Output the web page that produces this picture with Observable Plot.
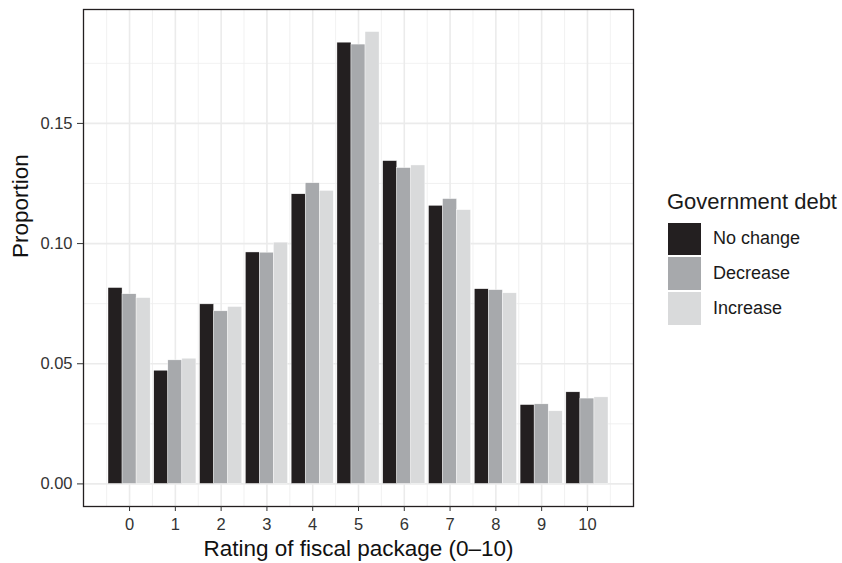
<!DOCTYPE html>
<html>
<head>
<meta charset="utf-8">
<script src="https://cdn.jsdelivr.net/npm/d3@7"></script>
<script src="https://cdn.jsdelivr.net/npm/@observablehq/plot@0.6"></script>
<style>
  html, body { margin: 0; padding: 0; background: #fff; }
  #wrap { position: relative; width: 842px; height: 563px; font-family: "Liberation Sans", Arial, sans-serif; }
  #legend { position: absolute; left: 667px; top: 189px; color: #1a1a1a; }
  #legend .title { font-size: 22px; line-height: 25px; margin-bottom: 7.5px; white-space: nowrap; }
  #legend .row { display: flex; align-items: center; height: 34.8px; }
  #legend .sw { width: 35px; height: 34.8px; margin-right: 11px; box-sizing: border-box; border: 0.5px solid #fff; }
  #legend .lab { font-size: 18px; white-space: nowrap; }
</style>
</head>
<body>
<div id="wrap"></div>
<script>
const ratings = [0, 1, 2, 3, 4, 5, 6, 7, 8, 9, 10];
const groups = ["No change", "Decrease", "Increase"];
const colors = ["#231f20", "#a7a9ac", "#d9dadb"];
const noChange = [0.0815, 0.0471, 0.0747, 0.0963, 0.1205, 0.1836, 0.1343, 0.1157, 0.0810, 0.0328, 0.0381];
const decrease = [0.0789, 0.0514, 0.0718, 0.0962, 0.1251, 0.1828, 0.1314, 0.1185, 0.0806, 0.0331, 0.0355];
const increase = [0.0773, 0.0521, 0.0736, 0.1004, 0.1219, 0.1880, 0.1325, 0.1139, 0.0793, 0.0302, 0.0360];
const yTicks = [0, 0.05, 0.10, 0.15];

const series = [noChange, decrease, increase];
const data = [];
ratings.forEach((r, i) => {
  groups.forEach((g, j) => {
    data.push({rating: r, group: g, gi: j, value: series[j][i]});
  });
});

const dodge = 0.92, bw = dodge / groups.length;
const xLo = -dodge / 2, xHi = 10 + dodge / 2;
const xPad = (xHi - xLo) * 0.05;
const yMax = d3.max(data, d => d.value);
const yPad = yMax * 0.05;

const minorX = d3.range(-0.5, 11, 0.5).filter(v => !Number.isInteger(v));
const minorY = [0.025, 0.075, 0.125, 0.175];

const chart = Plot.plot({
  width: 842,
  height: 563,
  marginLeft: 83,
  marginRight: 209,
  marginTop: 9,
  marginBottom: 57,
  style: {fontFamily: "Liberation Sans, Arial, sans-serif", background: "#fff"},
  x: {domain: [xLo - xPad, xHi + xPad]},
  y: {domain: [-yPad, yMax + yPad]},
  color: {domain: groups, range: colors},
  marks: [
    Plot.ruleX(minorX, {stroke: "#ededed", strokeWidth: 0.8}),
    Plot.ruleY(minorY, {stroke: "#ededed", strokeWidth: 0.8}),
    Plot.ruleX(ratings, {stroke: "#ebebeb", strokeWidth: 1.6}),
    Plot.ruleY(yTicks, {stroke: "#ebebeb", strokeWidth: 1.6}),
    Plot.rect(data, {
      x1: d => d.rating - dodge / 2 + d.gi * bw,
      x2: d => d.rating - dodge / 2 + (d.gi + 1) * bw,
      y1: 0,
      y2: "value",
      fill: "group",
      stroke: "#ffffff",
      strokeWidth: 0.4
    }),
    Plot.frame({stroke: "#231f20", strokeWidth: 1.3}),
    Plot.axisX(ratings, {tickFormat: d => String(d), tickSize: 5, tickPadding: 7, fontSize: 16.5, color: "#333", stroke: "#333", label: null}),
    Plot.axisY(yTicks, {tickFormat: d3.format(".2f"), tickSize: 6, tickPadding: 5, fontSize: 16.5, color: "#333", stroke: "#333", label: null}),
    Plot.text(["Rating of fiscal package (0–10)"], {frameAnchor: "bottom", dy: 42.6, fontSize: 22.5, fill: "#111", lineAnchor: "middle"}),
    Plot.text(["Proportion"], {frameAnchor: "left", dx: -62.5, rotate: -90, fontSize: 22.5, fill: "#111", lineAnchor: "middle"})
  ]
});
document.getElementById("wrap").appendChild(chart);

const legend = document.createElement("div");
legend.id = "legend";
const t = document.createElement("div");
t.className = "title";
t.textContent = "Government debt";
legend.appendChild(t);
groups.forEach((g, j) => {
  const row = document.createElement("div");
  row.className = "row";
  const sw = document.createElement("div");
  sw.className = "sw";
  sw.style.background = colors[j];
  const lab = document.createElement("div");
  lab.className = "lab";
  lab.textContent = g;
  row.appendChild(sw);
  row.appendChild(lab);
  legend.appendChild(row);
});
document.getElementById("wrap").appendChild(legend);
</script>
</body>
</html>
